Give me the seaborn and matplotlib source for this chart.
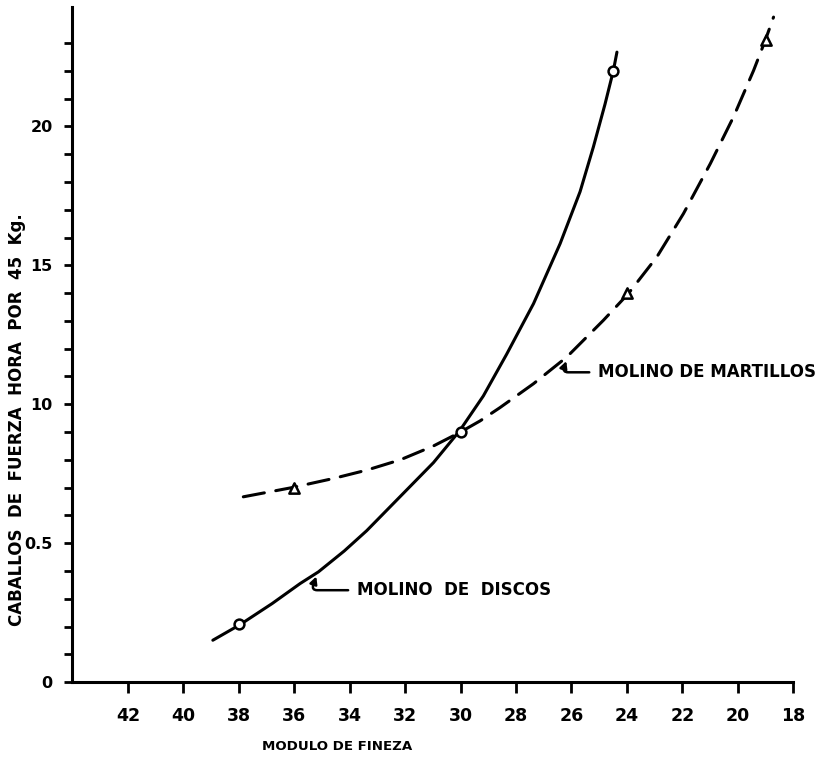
import numpy as np, pandas as pd, matplotlib
matplotlib.use('Agg')
import matplotlib.pyplot as plt
import seaborn as sns
from matplotlib.ticker import FixedLocator

### data ###
# Molino de discos (solid curve)
discos_x = [38.94, 37.96, 36.8, 35.79, 35.13, 34.2, 33.39, 32.18, 30.98, 30.04, 29.18, 28.34, 27.37, 26.41, 25.69, 25.21, 24.79, 24.49, 24.36]
discos_y = [0.151, 0.207, 0.283, 0.355, 0.397, 0.472, 0.545, 0.668, 0.790, 0.904, 1.030, 1.180, 1.362, 1.578, 1.765, 1.926, 2.080, 2.200, 2.267]
discos_pts_x = [38, 30, 24.5]
discos_pts_y = [0.21, 0.90, 2.20]

# Molino de martillos (dashed curve)
martillos_x = [37.84, 36.09, 34.59, 33.39, 32.18, 30.98, 30.04, 29.3, 28.58, 27.37, 26.17, 24.85, 23.95, 22.92, 21.96, 20.99, 20.15, 19.43, 19.01, 18.71]
martillos_y = [0.667, 0.700, 0.733, 0.763, 0.800, 0.850, 0.898, 0.940, 0.988, 1.074, 1.170, 1.302, 1.398, 1.530, 1.686, 1.866, 2.035, 2.201, 2.309, 2.393]
martillos_pts_x = [36, 24, 19]
martillos_pts_y = [0.70, 1.40, 2.31]

x_ticks = [42, 40, 38, 36, 34, 32, 30, 28, 26, 24, 22, 20, 18]
y_ticks = [0, 0.5, 1.0, 1.5, 2.0]
y_ticklabels = ['0', '0.5', '10', '15', '20']
y_minor = [0.1, 0.2, 0.3, 0.4, 0.6, 0.7, 0.8, 0.9, 1.1, 1.2, 1.3, 1.4, 1.6, 1.7, 1.8, 1.9, 2.1, 2.2, 2.3]

discos = pd.DataFrame({'x': discos_x, 'y': discos_y})
martillos = pd.DataFrame({'x': martillos_x, 'y': martillos_y})

sns.set_style('white')
plt.rcParams['font.family'] = ['DejaVu Sans']
plt.rcParams['font.weight'] = 'bold'
plt.rcParams['text.color'] = 'black'
plt.rcParams['xtick.color'] = 'black'
plt.rcParams['ytick.color'] = 'black'

fig = plt.figure(figsize=(8.28, 7.58), dpi=100)
ax = fig.add_axes([0.087, 0.100, 0.871, 0.891])

sns.lineplot(data=discos, x='x', y='y', sort=False, estimator=None, color='black', lw=2.2,
             solid_capstyle='round', solid_joinstyle='round', ax=ax)
sns.lineplot(data=martillos, x='x', y='y', sort=False, estimator=None, color='black', lw=2.2,
             linestyle=(0, (7, 3.8)), dash_capstyle='round', ax=ax)
sns.scatterplot(x=discos_pts_x, y=discos_pts_y, marker='o', s=50, facecolor='white',
                edgecolor='black', linewidth=1.8, zorder=5, ax=ax)
sns.scatterplot(x=martillos_pts_x, y=martillos_pts_y, marker='^', s=55, facecolor='white',
                edgecolor='black', linewidth=1.8, zorder=5, ax=ax)

ax.set_xlim(44.02, 18)
ax.set_ylim(0, 2.43)
ax.set_xticks(x_ticks)
ax.set_xticklabels([str(v) for v in x_ticks])
ax.set_yticks(y_ticks)
ax.set_yticklabels(y_ticklabels)
ax.yaxis.set_minor_locator(FixedLocator(y_minor))
ax.tick_params(axis='x', direction='out', length=8, width=2, pad=10, labelsize=12.5, bottom=True, colors='black')
ax.tick_params(axis='y', which='both', direction='out', length=6, width=2, pad=8, labelsize=11.5, left=True, colors='black')
for t in ax.get_xticklabels() + ax.get_yticklabels():
    t.set_fontweight('bold')
sns.despine(ax=ax)
for s in ['left', 'bottom']:
    ax.spines[s].set_linewidth(2.2)
    ax.spines[s].set_color('black')
ax.set_xlabel('')
ax.set_ylabel('')

arrow = dict(arrowstyle='-|>,head_length=0.35,head_width=0.18', color='black', lw=1.8,
             shrinkA=4, shrinkB=1, connectionstyle='angle,angleA=0,angleB=70,rad=6')
ax.annotate('MOLINO  DE  DISCOS', xy=(35.19, 0.385), xytext=(33.74, 0.331),
            ha='left', va='center', fontsize=12, fontweight='bold', arrowprops=arrow)
ax.annotate('MOLINO DE MARTILLOS', xy=(26.17, 1.16), xytext=(25.04, 1.115),
            ha='left', va='center', fontsize=12, fontweight='bold', arrowprops=arrow)

fig.text(337/828, 1 - 746/758, 'MODULO DE FINEZA', ha='center', va='center', fontsize=9.6, fontweight='bold')
fig.text(17/828, 1 - 420/758, 'CABALLOS  DE  FUERZA  HORA  POR  45  Kg.', rotation=90,
         ha='center', va='center', fontsize=12, fontweight='bold')

fig.savefig('out.png', dpi=100)
